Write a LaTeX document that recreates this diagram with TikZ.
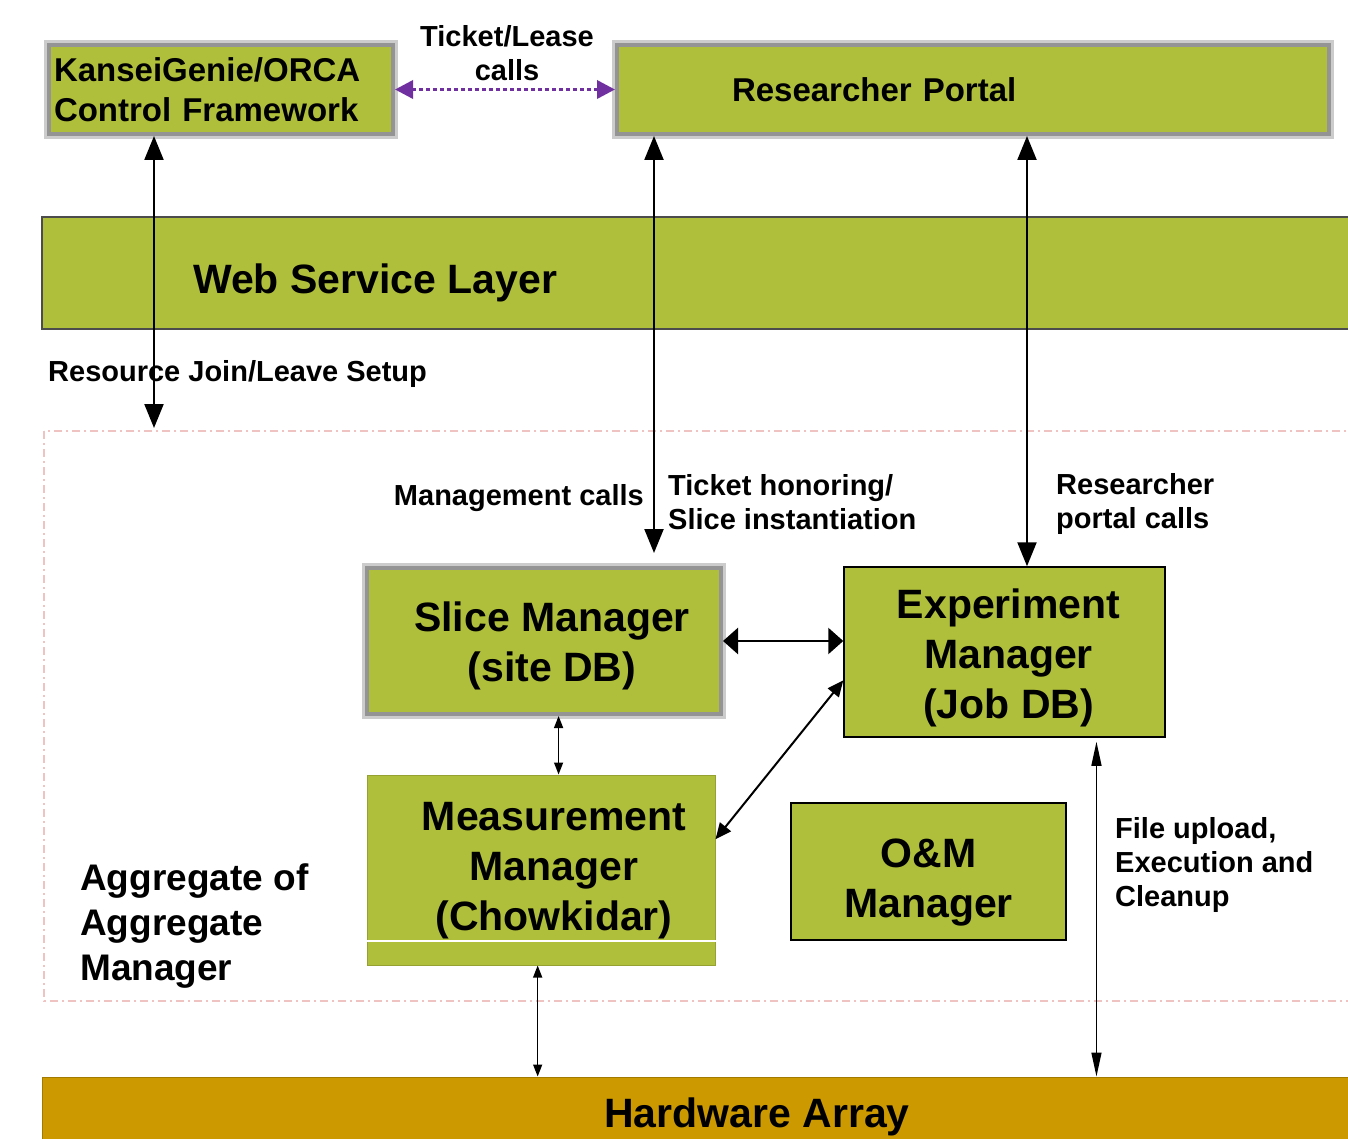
\documentclass[tikz,border=0pt]{standalone}
\usepackage{fontspec}
\setmainfont{Liberation Sans}
\usetikzlibrary{arrows.meta}
\definecolor{kgreen}{RGB}{175,191,59}
\definecolor{hwgold}{RGB}{204,153,0}
\definecolor{callpurple}{RGB}{112,48,160}
\definecolor{edgepink}{RGB}{240,195,195}

\begin{document}
\begin{tikzpicture}[x=1pt,y=-1pt,
                    box/.style={fill=kgreen,inner sep=0pt},
                    shbox/.style={box,draw=black!42,line width=4pt,preaction={draw=black!20,line width=10pt}},
                    blkbox/.style={box,draw=black,line width=1.5pt},
                    big/.style={font=\fontsize{41}{50}\selectfont\bfseries,align=center},
                    mid/.style={font=\fontsize{33}{40}\selectfont\bfseries},
                    lbl/.style={font=\fontsize{29}{34}\selectfont\bfseries,align=left,inner sep=0pt},
                    call/.style={{Triangle[length=24pt,width=19pt]}-{Triangle[length=24pt,width=19pt]},line width=2.2pt},
                    wide/.style={{Triangle[length=15pt,width=26pt]}-{Triangle[length=15pt,width=26pt]},line width=2.6pt},
                    diag/.style={{Triangle[length=16pt,width=14pt]}-{Triangle[length=16pt,width=14pt]},line width=2pt},
                    thin/.style={{Triangle[length=12pt,width=9pt]}-{Triangle[length=12pt,width=9pt]},line width=1.4pt},
                    slim/.style={{Triangle[length=24pt,width=10pt]}-{Triangle[length=24pt,width=10pt]},line width=1.4pt}]
	\useasboundingbox (0,0) rectangle (1348,1139);

	\fill[white] (0,0) rectangle (1348,1139);
	\draw[fill=kgreen,draw=black!70,line width=1.2pt] (42,217) rectangle (1380,329);
	\draw[edgepink,line width=1.2pt,dash pattern=on 8pt off 4pt on 2pt off 4pt] (44,431) rectangle (1400,1001);

	\node[shbox,mid,anchor=north west,minimum width=344,minimum height=89,
	      inner xsep=5pt,text width=334pt,align=left]				(kg)	at (47,43)		{KanseiGenie/ORCA\\Control Framework};
	\node[shbox,mid,anchor=north west,minimum width=712,minimum height=89,
	      inner xsep=115pt,text width=482pt,align=left]			(rp)	at (615,43)		{Researcher Portal};
	\node[big,inner sep=0pt,anchor=west]					(ws)	at (193,283)		{Web Service Layer};
	\node[shbox,minimum width=354,minimum height=146,
	      label={[big,xshift=8pt,yshift=-5pt]center:{Slice Manager\\(site DB)}}]	(sm)	at (544,641)	{};
	\node[blkbox,minimum width=321,minimum height=170,
	      label={[big,xshift=4pt,yshift=-6pt]center:{Experiment\\Manager\\(Job DB)}}]	(em)	at (1004.5,652)	{};
	\node[box,draw=kgreen!85!black,line width=1pt,minimum width=348,minimum height=190,
	      label={[big,xshift=13pt,yshift=-1pt]center:{Measurement\\Manager\\(Chowkidar)}}]	(mm)	at (541,870)	{};
	\node[blkbox,minimum width=275,minimum height=137,
	      label={[big,yshift=-11pt]center:{O\&M\\Manager}}]			(om)	at (928.5,871.5)	{};
	\node[fill=hwgold,draw=hwgold!80!black,line width=1pt,big,
	      minimum width=1430,minimum height=80]				(hw)	at (757,1117)		{Hardware Array};

	\node[lbl,align=center]							(tl)	at (507,53)		{Ticket/Lease\\calls};
	\node[lbl,anchor=west]							(rj)	at (48,374)		{Resource Join/Leave Setup};
	\node[lbl,anchor=east]							(mc)	at (644,498)		{Management calls};
	\node[lbl,anchor=west]							(th)	at (668,502)		{Ticket honoring/\\Slice instantiation};
	\node[lbl,anchor=west]							(rc)	at (1056,504)		{Researcher\\portal calls};
	\node[lbl,anchor=west]							(fu)	at (1115,865)		{File upload,\\Execution and\\Cleanup};
	\node[font=\fontsize{37}{45}\selectfont\bfseries,align=left,
	      inner sep=0pt,anchor=west]						(agg)	at (80,926)		{Aggregate of\\Aggregate\\Manager};

	\coordinate (jl) at (154,428);
	\coordinate (tk) at (654,553);
	\coordinate (pc) at (1027,0);

	\draw[white,line width=1.5pt] (mm.west |- 0,941) -- (mm.east |- 0,941);

	\draw[callpurple,line width=3.5pt,dash pattern=on 3.5pt off 3.5pt,
	      {Triangle[length=18pt,width=18pt]}-{Triangle[length=18pt,width=18pt]}] (kg.east) -- (rp.west);
	\draw[call] (kg.south -| jl) -- (jl);
	\draw[call] (rp.south -| tk) -- (tk);
	\draw[call] (rp.south -| pc) -- (em.north -| pc);
	\path	(sm.east)	edge[wide]	(sm.east -| em.west)
		(mm.10)	edge[diag]	(em.190)
		(sm.-79)	edge[thin]	(sm.-79 |- mm.north)
		(mm.-92)	edge[thin]	(mm.-92 |- hw.north)
		(em.-43)	edge[slim,shorten <=4pt]	(em.-43 |- hw.north);
\end{tikzpicture}
\end{document}
